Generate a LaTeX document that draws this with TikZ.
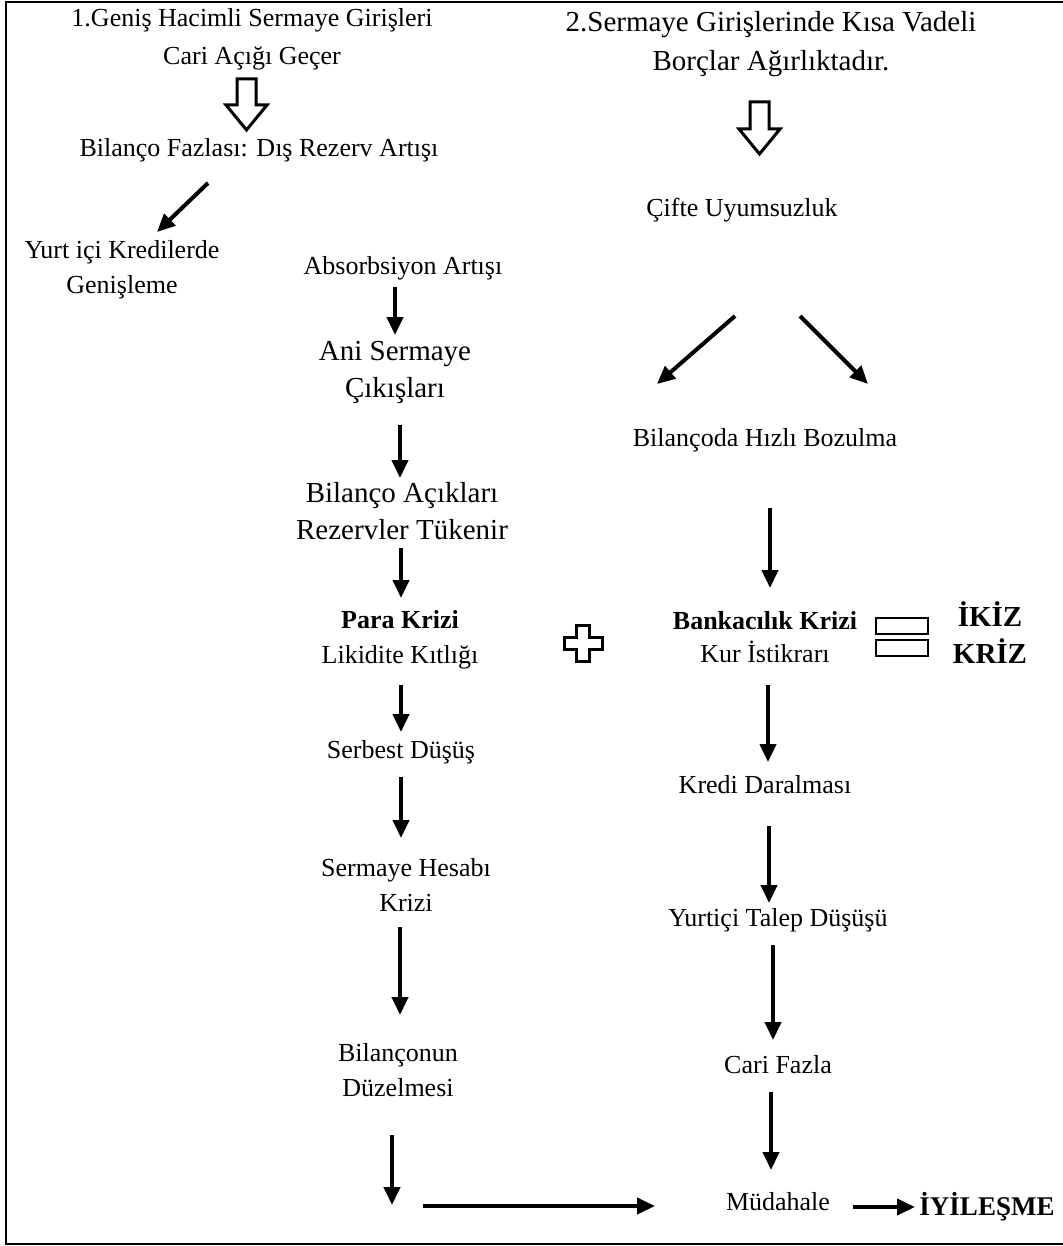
\documentclass[tikz,border=0pt]{standalone}
\usepackage{fontspec}
\setmainfont{Liberation Serif}
\usetikzlibrary{arrows.meta,calc}

\tikzset{
  txt/.style={font=\fontsize{13}{17.5}\selectfont, align=center, inner sep=0pt},
  big/.style={txt, font=\fontsize{14.5}{18.5}\selectfont},
  arr/.style={line width=2pt, -{Triangle[length=9pt,width=8pt]}},
  hollow/.style={line width=1.5pt, line join=miter},
}

\begin{document}
\begin{tikzpicture}[x=0.5pt,y=-0.5pt]
    \useasboundingbox (0,0) rectangle (1062,1246);
    \draw [line width=1pt] (1064,2) -- (6,2) -- (6,1244) -- (1064,1244);

    % left column
    \node [txt, font=\fontsize{13}{19}\selectfont] (gen) at (252,39)
       {1.Geniş Hacimli Sermaye Girişleri\\Cari Açığı Geçer};
    \node [txt] (fazla) at (259,150) {Bilanço Fazlası: Dış Rezerv Artışı};
    \node [txt] (yurt) at (122,270) {Yurt içi Kredilerde\\Genişleme};
    \node [txt] (absorb) at (403,268) {Absorbsiyon Artışı};
    \node [big] (ani) at (395,372) {Ani Sermaye\\Çıkışları};
    \node [big] (acik) at (402,511) {Bilanço Açıkları\\Rezervler Tükenir};
    \node [txt] (para) at (400,640) {\textbf{Para Krizi}\\Likidite Kıtlığı};
    \node [txt] (serbest) at (401,752) {Serbest Düşüş};
    \node [txt] (hesap) at (406,885) {Sermaye Hesabı\\Krizi};
    \node [txt] (duzel) at (398,1070) {Bilançonun\\Düzelmesi};
    \coordinate (turn) at (392,1205);

    % right column
    \node [big, font=\fontsize{14.5}{19.5}\selectfont] (kisa) at (771,44)
       {2.Sermaye Girişlerinde Kısa Vadeli\\Borçlar Ağırlıktadır.};
    \node [txt] (cifte) at (742,210) {Çifte Uyumsuzluk};
    \node [txt] (bozul) at (765,440) {Bilançoda Hızlı Bozulma};
    \node [txt, font=\fontsize{13}{16.5}\selectfont] (banka) at (765,637)
       {\textbf{Bankacılık Krizi}\\Kur İstikrarı};
    \node [txt] (kredi) at (765,785) {Kredi Daralması};
    \node [txt] (talep) at (778,920) {Yurtiçi Talep Düşüşü};
    \node [txt] (cari) at (778,1065) {Cari Fazla};
    \node [txt] (mudah) at (778,1202) {Müdahale};
    \node [txt, font=\fontsize{13.5}{16}\selectfont\bfseries] (iyi) at (987,1207) {İYİLEŞME};
    \node [big, font=\fontsize{14.5}{18.5}\selectfont\bfseries] (ikiz) at (990,633) {İKİZ\\KRİZ};

    % hollow arrows
    \draw [hollow] ($(gen)+(-15,40)$) -- ++(19,0) -- ++(0,26) -- ++(11,0)
       -- ++(-20.5,25) -- ++(-20.5,-25) -- ++(11,0) -- cycle;
    \draw [hollow] ($(kisa)+(-21,58)$) -- ++(19,0) -- ++(0,27) -- ++(11,0)
       -- ++(-20.5,25) -- ++(-20.5,-25) -- ++(11,0) -- cycle;

    % plus and equals
    \draw [hollow] (576.5,625) -- ++(13,0) -- ++(0,12) -- ++(12.5,0) -- ++(0,12)
       -- ++(-12.5,0) -- ++(0,12) -- ++(-13,0) -- ++(0,-12) -- ++(-12.5,0)
       -- ++(0,-12) -- ++(12.5,0) -- cycle;
    \draw [line width=1.2pt] (876,618) rectangle (928,634);
    \draw [line width=1.2pt] (876,640) rectangle (928,656);

    % left arrows
    \draw [arr] ($(fazla)+(-51,33)$) -- ($(yurt)+(35,-38)$);
    \draw [arr] ($(absorb)+(-8,19)$) -- ($(ani)+(0,-37)$);
    \draw [arr] ($(ani)+(5,53)$) -- ($(acik)+(-2,-33)$);
    \draw [arr] ($(acik)+(-1,37)$) -- ($(para)+(1,-42)$);
    \draw [arr] ($(para)+(1,45)$) -- ($(serbest)+(0,-20)$);
    \draw [arr] ($(serbest)+(0,25)$) -- ($(hesap)+(-5,-47)$);
    \draw [arr] ($(hesap)+(-6,42)$) -- ($(duzel)+(2,-55)$);
    \draw [arr] ($(duzel)+(-6,65)$) -- (turn);
    \draw [arr] ($(turn)+(31,1)$) -- ($(mudah)+(-123,4)$);

    % right arrows
    \draw [arr] ($(cifte)+(-7,106)$) -- ($(bozul)+(-108,-56)$);
    \draw [arr] ($(cifte)+(58,106)$) -- ($(bozul)+(103,-56)$);
    \draw [arr] ($(bozul)+(5,68)$) -- ($(banka)+(5,-49)$);
    \draw [arr] ($(banka)+(3,48)$) -- ($(kredi)+(3,-23)$);
    \draw [arr] ($(kredi)+(4,41)$) -- ($(talep)+(-9,-17)$);
    \draw [arr] ($(talep)+(-5,25)$) -- ($(cari)+(-5,-25)$);
    \draw [arr] ($(cari)+(-7,27)$) -- ($(mudah)+(-7,-32)$);
    \draw [arr] ($(mudah)+(75,5)$) -- ($(iyi)+(-72,0)$);
\end{tikzpicture}
\end{document}
